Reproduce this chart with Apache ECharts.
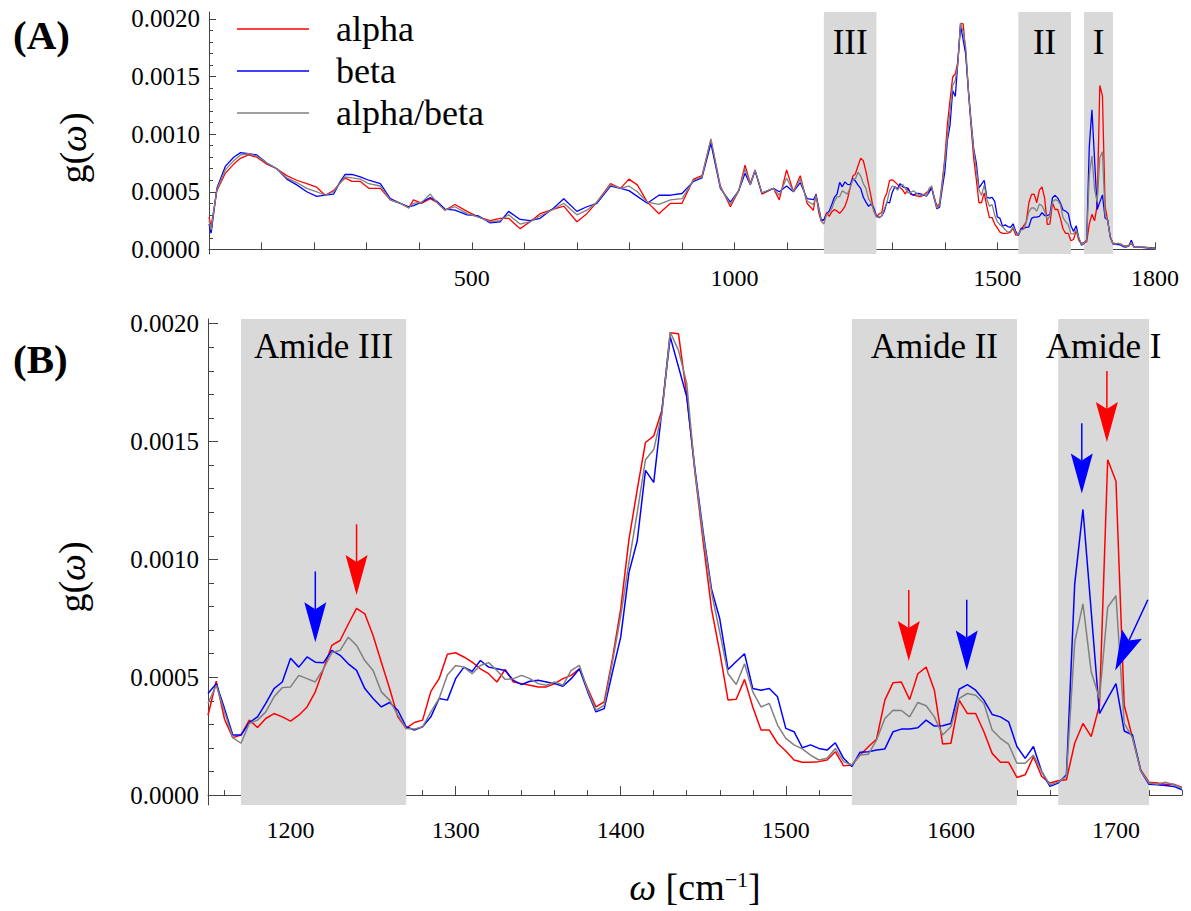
<!DOCTYPE html>
<html><head><meta charset="utf-8">
<script src="https://cdn.jsdelivr.net/npm/echarts@6/dist/echarts.min.js"></script>
<style>html,body{margin:0;padding:0;background:#fff}#c{width:1191px;height:911px}</style>
</head><body><div id="c"></div>
<script>
// ---------- DATA ----------
// Panel A, low-frequency part
const lowX = [0,4,15,31,47,60,75,91,110,129,148,167,186,205,221,237,250,259,272,288,304,326,345,364,380,389,405,421,433,449,468,491,513,535,554,570,592,611,630,656,675,700,719,738,764,783,799,815,834,856,878,900,922,938,955,973,992,1008,1020,1030,1039,1052,1074,1085,1099,1112,1125,1138];
const lowAlpha = [0.00028,0.00020,0.00051,0.00066,0.00074,0.00079,0.00082,0.00080,0.00074,0.00070,0.00064,0.00060,0.00057,0.00054,0.00047,0.00051,0.00058,0.00062,0.00059,0.00059,0.00053,0.00053,0.00043,0.00040,0.00036,0.00043,0.00040,0.00044,0.00041,0.00034,0.00039,0.00033,0.00028,0.00025,0.00027,0.00027,0.00018,0.00024,0.00031,0.00035,0.000375,0.00024,0.00031,0.00041,0.00057,0.00053,0.00061,0.00056,0.00041,0.00031,0.00040,0.00040,0.00061,0.00064,0.00095,0.00055,0.00037,0.00051,0.00073,0.00057,0.00069,0.00048,0.00053,0.00043,0.00069,0.00050,0.00064,0.00040];
const lowBeta = [0.00022,0.00014,0.00053,0.00072,0.00080,0.00084,0.00083,0.00082,0.00075,0.00070,0.00061,0.00056,0.00050,0.00046,0.00047,0.00048,0.00059,0.00065,0.00065,0.00063,0.00060,0.00057,0.00044,0.00040,0.00037,0.00038,0.00041,0.00045,0.00042,0.00035,0.00034,0.00030,0.00029,0.00023,0.00024,0.00033,0.00026,0.00025,0.00027,0.00036,0.00044,0.00033,0.00037,0.00040,0.00055,0.00053,0.00051,0.00046,0.00040,0.00047,0.00047,0.000485,0.00059,0.00062,0.00092,0.00053,0.00041,0.00051,0.00066,0.00056,0.00068,0.00049,0.00053,0.00050,0.00055,0.00050,0.00058,0.00044];
const lowMix = [0.00025,0.00017,0.00052,0.00069,0.00077,0.00082,0.00083,0.00081,0.00075,0.00070,0.00062,0.00058,0.00053,0.00050,0.00047,0.00050,0.00058,0.00063,0.00062,0.00061,0.00057,0.00055,0.00043,0.00040,0.00036,0.00040,0.00041,0.00048,0.00041,0.00034,0.00037,0.00031,0.00028,0.00024,0.00025,0.00030,0.00022,0.00024,0.00029,0.00035,0.00040,0.00030,0.00034,0.00041,0.00056,0.00053,0.00055,0.00050,0.00041,0.00039,0.00043,0.00044,0.00060,0.00063,0.00096,0.00054,0.00039,0.00051,0.00070,0.00056,0.00069,0.00049,0.00053,0.00047,0.00062,0.00050,0.00061,0.00042];

// Panel B range (1150-1740)
const bX = [1150,1155,1160,1165,1170,1175,1180,1185,1190,1195,
1200,1205,1210,1215,1220,1225,1230,1235,1240,1245,
1250,1255,1260,1265,1270,1275,1280,1285,1290,1295,
1300,1305,1310,1315,1320,1325,1330,1335,1340,1345,
1350,1355,1360,1365,1370,1375,1380,1385,1390,1395,
1400,1405,1410,1415,1420,1425,1430,1435,1440,1445,
1450,1455,1460,1465,1470,1475,1480,1485,1490,1495,
1500,1505,1510,1515,1520,1525,1530,1535,1540,1545,
1550,1555,1560,1565,1570,1575,1580,1585,1590,1595,
1600,1605,1610,1615,1620,1625,1630,1635,1640,1645,
1650,1655,1660,1665,1670,1675,1680,1685,1690,1695,
1700,1705,1710,1715,1720,1725,1730,1735,1740];
const bAlpha = [0.000339,0.000483,0.000322,0.000244,0.000255,0.000318,0.000287,0.000325,0.000346,0.000332,
0.000314,0.000339,0.000374,0.000438,0.000536,0.000635,0.000656,0.000726,0.000792,0.000769,
0.000677,0.000564,0.000452,0.000332,0.000283,0.000308,0.000318,0.000440,0.000494,0.000598,
0.000604,0.000586,0.000564,0.000536,0.000515,0.000480,0.000533,0.000480,0.000473,0.000466,
0.000459,0.000459,0.000473,0.000494,0.000508,0.000536,0.000452,0.000374,0.000396,0.000579,
0.000790,0.001085,0.001296,0.001496,0.001524,0.001634,0.001962,0.001957,0.001697,0.001367,
0.001071,0.000790,0.000607,0.000403,0.000407,0.000491,0.000374,0.000276,0.000276,0.000220,
0.000187,0.000149,0.000139,0.000139,0.000142,0.000149,0.000184,0.000124,0.000128,0.000170,
0.000205,0.000238,0.000403,0.000477,0.000480,0.000405,0.000515,0.000543,0.000445,0.000217,
0.000220,0.000403,0.000346,0.000346,0.000269,0.000177,0.000139,0.000139,0.000075,0.000086,
0.000163,0.000079,0.000051,0.000061,0.000065,0.000220,0.000304,0.000248,0.000381,0.001423,
0.001332,0.000381,0.000244,0.000107,0.000055,0.000051,0.000046,0.000046,0.000032];
const bBeta = [0.000431,0.000473,0.000367,0.000255,0.000255,0.000308,0.000332,0.000389,0.000452,0.000480,
0.000581,0.000543,0.000586,0.000564,0.000562,0.000614,0.000593,0.000557,0.000529,0.000452,
0.000410,0.000374,0.000393,0.000360,0.000290,0.000276,0.000290,0.000332,0.000410,0.000403,
0.000494,0.000543,0.000525,0.000571,0.000543,0.000536,0.000529,0.000487,0.000469,0.000483,
0.000487,0.000480,0.000473,0.000462,0.000494,0.000536,0.000438,0.000353,0.000367,0.000522,
0.000670,0.000945,0.001078,0.001378,0.001327,0.001634,0.001944,0.001817,0.001690,0.001381,
0.001113,0.000874,0.000748,0.000533,0.000567,0.000600,0.000452,0.000445,0.000452,0.000417,
0.000283,0.000269,0.000201,0.000213,0.000198,0.000191,0.000222,0.000156,0.000121,0.000182,
0.000184,0.000191,0.000196,0.000269,0.000280,0.000280,0.000286,0.000318,0.000293,0.000294,
0.000304,0.000449,0.000469,0.000445,0.000403,0.000342,0.000332,0.000311,0.000206,0.000156,
0.000206,0.000100,0.000037,0.000051,0.000086,0.000895,0.001212,0.000780,0.000346,0.000410,
0.000473,0.000272,0.000255,0.000103,0.000046,0.000044,0.000041,0.000037,0.000023];
const bMix = [0.000389,0.000466,0.000353,0.000244,0.000220,0.000304,0.000318,0.000353,0.000417,0.000456,
0.000459,0.000508,0.000494,0.000480,0.000536,0.000604,0.000614,0.000670,0.000635,0.000571,
0.000529,0.000438,0.000403,0.000339,0.000283,0.000280,0.000290,0.000353,0.000410,0.000510,
0.000550,0.000543,0.000515,0.000550,0.000562,0.000529,0.000491,0.000494,0.000508,0.000494,
0.000473,0.000466,0.000480,0.000466,0.000529,0.000550,0.000445,0.000360,0.000381,0.000564,
0.000760,0.000987,0.001198,0.001423,0.001466,0.001620,0.001965,0.001887,0.001747,0.001370,
0.001099,0.000860,0.000691,0.000515,0.000469,0.000557,0.000438,0.000374,0.000389,0.000297,
0.000241,0.000213,0.000196,0.000170,0.000149,0.000156,0.000198,0.000142,0.000128,0.000170,
0.000173,0.000234,0.000325,0.000360,0.000359,0.000332,0.000393,0.000379,0.000332,0.000255,
0.000290,0.000410,0.000431,0.000424,0.000389,0.000276,0.000241,0.000215,0.000135,0.000135,
0.000170,0.000100,0.000044,0.000055,0.000079,0.000649,0.000811,0.000523,0.000410,0.000797,
0.000846,0.000304,0.000244,0.000103,0.000051,0.000046,0.000055,0.000044,0.000030];

// Panel A tail beyond 1740
const tailX = [1745,1750,1755,1760,1770,1780,1790,1800];
const tailAlpha = [0.00003,0.00003,0.00005,0.00002,0.00002,0.00002,0.000015,0.00001];
const tailBeta = [0.00002,0.00003,0.00008,0.00002,0.00002,0.000015,0.00001,0.00001];
const tailMix = [0.000025,0.00003,0.00006,0.00002,0.00002,0.00002,0.000012,0.00001];

// Shaded bands
const bandStart = [1170, 1540, 1665];
const bandEnd = [1270, 1640, 1720];
const bandLabelsA = ['III', 'II', 'I'];
const bandLabelsB = ['Amide III', 'Amide II', 'Amide I'];

// Arrows in panel B: start (x0,y0) -> tip (x1,y1)
const arrowX0 = [1215, 1240, 1574.5, 1609.6, 1679.3, 1694.5, 1719.3];
const arrowY0 = [0.000949, 0.001149, 0.00087, 0.000829, 0.001578, 0.001799, 0.000829];
const arrowX1 = [1215, 1240, 1574.5, 1609.6, 1679.3, 1694.5, 1699.5];
const arrowY1 = [0.000649, 0.000849, 0.000569, 0.000529, 0.00128, 0.001498, 0.000529];
const arrowSeries = ['beta', 'alpha', 'alpha', 'beta', 'beta', 'alpha', 'beta'];

// Ticks
const xLabelsA = [500, 1000, 1500, 1800];
const yMajor = [0, 0.0005, 0.001, 0.0015, 0.002];
const yMinor = [0,0.0001,0.0002,0.0003,0.0004,0.0005,0.0006,0.0007,0.0008,0.0009,0.001,0.0011,0.0012,0.0013,0.0014,0.0015,0.0016,0.0017,0.0018,0.0019,0.002];
const xMajorB = [1200, 1300, 1400, 1500, 1600, 1700];
const xMinorB = [1160,1180,1200,1220,1240,1260,1280,1300,1320,1340,1360,1380,1400,1420,1440,1460,1480,1500,1520,1540,1560,1580,1600,1620,1640,1660,1680,1700,1720,1740];

const seriesNames = ['alpha', 'beta', 'alpha/beta'];
const seriesColors = {'alpha': '#ff0000', 'beta': '#0000ff', 'alpha/beta': '#808080'};

// ---------- CHART ----------
const FONT = "'Liberation Serif', 'Times New Roman', Times, serif";
const AX = '#444';
const zip = (xs, ys) => xs.map((x, i) => [x, ys[i]]);

const aX = lowX.concat(bX, tailX);
const aSets = {
  'alpha': lowAlpha.concat(bAlpha, tailAlpha),
  'beta': lowBeta.concat(bBeta, tailBeta),
  'alpha/beta': lowMix.concat(bMix, tailMix)
};
const bSets = {'alpha': bAlpha, 'beta': bBeta, 'alpha/beta': bMix};

function bandRenderer(labels, fontSize, offset) {
  return function (params, api) {
    const cs = params.coordSys;
    const x0 = api.coord([api.value(0), 0])[0];
    const x1 = api.coord([api.value(1), 0])[0];
    return {
      type: 'group',
      children: [
        {type: 'rect', shape: {x: x0, y: cs.y, width: x1 - x0, height: cs.height}, style: {fill: '#d9d9d9'}},
        {type: 'text', style: {text: labels[params.dataIndex], x: (x0 + x1) / 2, y: cs.y + offset,
          align: 'center', verticalAlign: 'middle', font: fontSize + 'px ' + FONT, fill: '#000'}}
      ]
    };
  };
}

function arrowRenderer(params, api) {
  const p0 = api.coord([api.value(0), api.value(1)]);
  const p1 = api.coord([api.value(2), api.value(3)]);
  const dx = p1[0] - p0[0], dy = p1[1] - p0[1];
  const len = Math.hypot(dx, dy);
  const ux = dx / len, uy = dy / len, nx = -uy, ny = ux;
  const hl = 40, hw = 11, notch = 7;
  const bx = p1[0] - ux * hl, by = p1[1] - uy * hl;
  const color = seriesColors[arrowSeries[params.dataIndex]];
  return {
    type: 'group',
    children: [
      {type: 'line', shape: {x1: p0[0], y1: p0[1], x2: bx + ux * notch, y2: by + uy * notch}, style: {stroke: color, lineWidth: 1.5}},
      {type: 'polygon', shape: {points: [[p1[0], p1[1]], [bx + nx * hw, by + ny * hw], [bx + ux * notch, by + uy * notch], [bx - nx * hw, by - ny * hw]]}, style: {fill: color}}
    ]
  };
}

const labelStyle = {fontFamily: FONT, fontSize: 24, color: '#000'};
const yLabelStyle = {fontFamily: FONT, fontSize: 25, color: '#000'};

const series = [];
// bands
series.push({type: 'custom', xAxisIndex: 0, yAxisIndex: 0, z: 1, silent: true, renderItem: bandRenderer(bandLabelsA, 35, 30.5),
  data: bandStart.map((s, i) => [s, bandEnd[i]])});
series.push({type: 'custom', xAxisIndex: 1, yAxisIndex: 2, z: 1, silent: true, renderItem: bandRenderer(bandLabelsB, 35, 27.5),
  data: bandStart.map((s, i) => [s, bandEnd[i]])});
seriesNames.forEach(n => {
  series.push({name: n, type: 'line', xAxisIndex: 0, yAxisIndex: 0, z: 3, symbol: 'none', showSymbol: false,
    lineStyle: {color: seriesColors[n], width: 1.3}, itemStyle: {color: seriesColors[n]}, data: zip(aX, aSets[n])});
});
seriesNames.forEach(n => {
  series.push({name: n, type: 'line', xAxisIndex: 1, yAxisIndex: 2, z: 3, symbol: 'none', showSymbol: false,
    lineStyle: {color: seriesColors[n], width: 1.5}, itemStyle: {color: seriesColors[n]}, data: zip(bX, bSets[n])});
});
series.push({type: 'custom', xAxisIndex: 1, yAxisIndex: 2, z: 5, silent: true, renderItem: arrowRenderer,
  data: arrowX0.map((x, i) => [x, arrowY0[i], arrowX1[i], arrowY1[i]])});

const yName = {
  name: '{a|g(}{b|ω}{a|)}',
  nameLocation: 'middle',
  nameGap: 117,
  nameTextStyle: {padding: [0, 30, 0, 0], rich: {
    a: {fontFamily: FONT, fontSize: 38, color: '#000'},
    b: {fontFamily: FONT, fontSize: 38, fontStyle: 'italic', color: '#000'}
  }}
};

const option = {
  animation: false,
  backgroundColor: '#fff',
  title: [
    {text: '(A)', left: 13, top: 14, padding: 0, textStyle: {fontFamily: FONT, fontWeight: 'bold', fontSize: 41, color: '#000'}},
    {text: '(B)', left: 13, top: 338, padding: 0, textStyle: {fontFamily: FONT, fontWeight: 'bold', fontSize: 41, color: '#000'}}
  ],
  legend: {
    data: seriesNames, orient: 'vertical', left: 237, top: 8, padding: 0, itemGap: 0,
    icon: 'rect', itemWidth: 72, itemHeight: 1.5,
    textStyle: {fontFamily: FONT, fontSize: 36, color: '#000', lineHeight: 42, padding: [0, 0, 0, 22]}
  },
  grid: [
    {left: 209, right: 36, top: 12, height: 242},
    {left: 208, right: 9, top: 319, height: 488}
  ],
  xAxis: [
    {gridIndex: 0, type: 'value', min: 0, max: 1800, interval: 100,
      axisLine: {lineStyle: {color: AX}}, axisTick: {inside: true, length: 7, lineStyle: {color: AX}},
      axisLabel: Object.assign({margin: 12, formatter: v => xLabelsA.includes(v) ? String(v) : ''}, labelStyle),
      splitLine: {show: false}},
    {gridIndex: 1, type: 'value', min: 1150, max: 1740, position: 'bottom',
      axisLine: {lineStyle: {color: AX}}, axisTick: {inside: true, length: 9, customValues: xMajorB, lineStyle: {color: AX}},
      axisLabel: Object.assign({margin: 13, customValues: xMajorB, formatter: v => String(v)}, labelStyle),
      splitLine: {show: false},
      name: '{b|ω} [cm{s|−1}]', nameLocation: 'middle', nameGap: 63,
      nameTextStyle: {fontFamily: FONT, fontSize: 38, color: '#000', rich: {
        b: {fontFamily: FONT, fontSize: 38, fontStyle: 'italic', color: '#000'},
        s: {fontFamily: FONT, fontSize: 22, color: '#000', verticalAlign: 'top', padding: [0, 0, 14, 0]}
      }}},
    {gridIndex: 1, type: 'value', min: 1150, max: 1740, position: 'bottom',
      axisLine: {show: false}, axisTick: {inside: true, length: 5, customValues: xMinorB, lineStyle: {color: AX}},
      axisLabel: {show: false}, splitLine: {show: false}}
  ],
  yAxis: [
    Object.assign({gridIndex: 0, type: 'value', min: -0.00004, max: 0.00206, position: 'left',
      axisLine: {show: true, lineStyle: {color: AX}}, axisTick: {show: true, inside: true, length: 7, customValues: yMajor, lineStyle: {color: AX}},
      axisLabel: Object.assign({margin: 9, customValues: yMajor, formatter: v => v.toFixed(4)}, yLabelStyle),
      splitLine: {show: false}}, yName),
    {gridIndex: 0, type: 'value', min: -0.00004, max: 0.00206, position: 'left',
      axisLine: {show: false}, axisTick: {show: true, inside: true, length: 4, customValues: yMinor, lineStyle: {color: AX}},
      axisLabel: {show: false}, splitLine: {show: false}},
    Object.assign({gridIndex: 1, type: 'value', min: -0.000042, max: 0.00202, position: 'left',
      axisLine: {show: true, lineStyle: {color: AX}}, axisTick: {show: true, inside: true, length: 10, customValues: yMajor, lineStyle: {color: AX}},
      axisLabel: Object.assign({margin: 9, customValues: yMajor, formatter: v => v.toFixed(4)}, yLabelStyle),
      splitLine: {show: false}}, yName),
    {gridIndex: 1, type: 'value', min: -0.000042, max: 0.00202, position: 'left',
      axisLine: {show: false}, axisTick: {show: true, inside: true, length: 6, customValues: yMinor, lineStyle: {color: AX}},
      axisLabel: {show: false}, splitLine: {show: false}}
  ],
  series: series
};

const chart = echarts.init(document.getElementById('c'), null, {renderer: 'svg'});
chart.setOption(option);
</script>
</body></html>
